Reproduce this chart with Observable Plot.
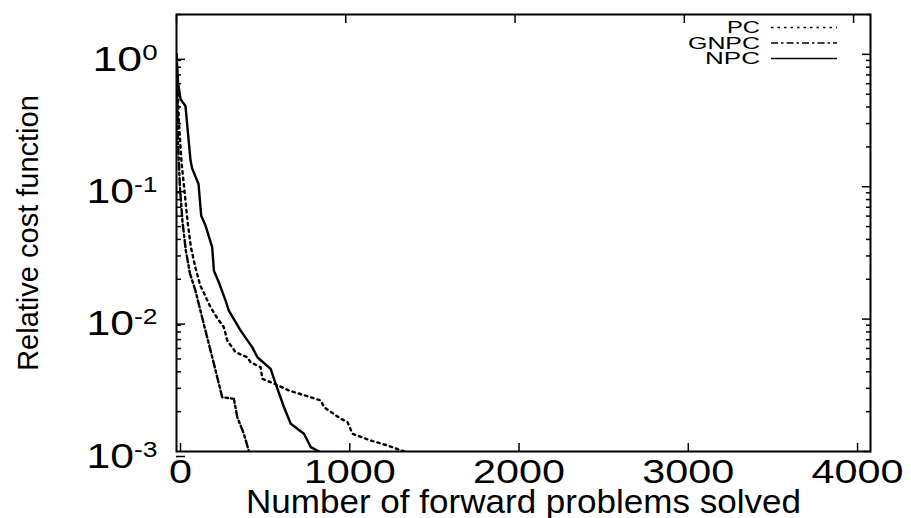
<!DOCTYPE html>
<html><head><meta charset="utf-8">
<script src="https://cdn.jsdelivr.net/npm/d3@7"></script>
<script src="https://cdn.jsdelivr.net/npm/@observablehq/plot@0.6"></script>
<style>body{margin:0;background:#fff;} #chart{width:911px;height:518px;}</style>
</head><body><div id="chart"></div>
<script>
const seriesNames = ["PC", "GNPC", "NPC"];
const pcX = [0, 5, 15, 30, 45, 65, 85, 110, 140, 175, 201, 240, 280, 300, 349, 418, 438, 497, 507, 556, 665, 852, 872, 970, 1010, 1040, 1148, 1247, 1345];
const pcY = [1.0, 0.6, 0.3, 0.15, 0.1, 0.055, 0.035, 0.025, 0.018, 0.0145, 0.0123, 0.0102, 0.00867, 0.00689, 0.00562, 0.00515, 0.00472, 0.00433, 0.00354, 0.00334, 0.00289, 0.00243, 0.00216, 0.00177, 0.00167, 0.00136, 0.00121, 0.00111, 0.001];
const gnpcX = [0, 4, 10, 20, 35, 55, 80, 112, 161, 221, 270, 339, 359, 398, 428];
const gnpcY = [1.0, 0.5, 0.2, 0.1, 0.055, 0.033, 0.022, 0.0164, 0.0092, 0.0046, 0.00257, 0.0025, 0.00182, 0.00136, 0.001];
const npcX = [0, 10, 24, 53, 83, 93, 130, 146, 172, 211, 221, 250, 290, 309, 379, 448, 478, 556, 586, 635, 675, 753, 793, 842];
const npcY = [1.0, 0.6, 0.458, 0.407, 0.157, 0.137, 0.105, 0.0604, 0.0507, 0.0348, 0.0232, 0.019, 0.0138, 0.0116, 0.00819, 0.00612, 0.00515, 0.00421, 0.00324, 0.00216, 0.00162, 0.00136, 0.00108, 0.001];
const xTicks = [0, 1000, 2000, 3000, 4000];
const yTicks = [1e-3, 1e-2, 1e-1, 1];
const xTitle = "Number of forward problems solved";
const yTitle = "Relative cost function";

const dashes = {PC: "2.5,4", GNPC: "7,3,2.5,3", NPC: null};
const seriesX = {PC: pcX, GNPC: gnpcX, NPC: npcX};
const seriesY = {PC: pcY, GNPC: gnpcY, NPC: npcY};
const rows = seriesNames.flatMap(s => seriesX[s].map((x, i) => ({s, x, y: seriesY[s][i]})));

const yMinor = [];
for (const dec of [1e-3, 1e-2, 1e-1]) for (let k = 2; k <= 9; k++) yMinor.push(+(k * dec).toPrecision(3));
yMinor.push(2);

const font = "'Liberation Sans', Arial, Helvetica, sans-serif";
const blank = () => "";

const lineMarks = seriesNames.map(s => Plot.line(rows.filter(d => d.s === s), {
  x: "x", y: "y", stroke: "black", strokeWidth: 2.4, strokeDasharray: dashes[s], clip: true
}));

const plot = Plot.plot({
  width: 911, height: 518,
  marginLeft: 176, marginRight: 41, marginTop: 14, marginBottom: 67,
  style: {fontFamily: font, color: "black", background: "white"},
  x: {domain: [0, 4100]},
  y: {type: "log", domain: [1e-3, 2]},
  marks: [
    ...lineMarks,
    Plot.axisX(xTicks, {anchor: "bottom", tickSize: -8, tickPadding: 15, fontSize: 34, dx: 4, label: null, strokeWidth: 1.5,
      tickFormat: d => String(d)}),
    Plot.axisX(xTicks, {anchor: "top", tickSize: -8, tickFormat: blank, label: null, strokeWidth: 1.5}),
    Plot.axisY(yTicks, {anchor: "left", tickSize: -9, tickPadding: 28, fontSize: 35, dy: 5, label: null, strokeWidth: 1.5,
      tickFormat: d => "10^" + Math.round(Math.log10(d))}),
    Plot.axisY(yTicks, {anchor: "right", tickSize: -9, tickFormat: blank, label: null, strokeWidth: 1.5}),
    Plot.axisY(yMinor, {anchor: "left", tickSize: -5, tickFormat: blank, label: null, strokeWidth: 1.5}),
    Plot.axisY(yMinor, {anchor: "right", tickSize: -5, tickFormat: blank, label: null, strokeWidth: 1.5}),
    Plot.frame({stroke: "black", strokeWidth: 2}),
    Plot.text([xTitle], {frameAnchor: "bottom", lineAnchor: "middle", textAnchor: "middle", dy: 51, fontSize: 34, text: d => d, fill: "black"}),
    Plot.text([yTitle], {frameAnchor: "left", lineAnchor: "middle", textAnchor: "middle", dx: -148, rotate: -90, fontSize: 29, text: d => d, fill: "black"})
  ]
});

// superscripts in y tick labels, widened glyphs
d3.select(plot).selectAll('g[aria-label="y-axis tick label"] text').each(function() {
  const t = this.textContent;
  if (!t.includes("^")) return;
  const [b, e] = t.split("^");
  const s = d3.select(this);
  s.text(null);
  s.append("tspan").text(b);
  s.append("tspan").attr("dy", "-0.5em").attr("font-size", "0.62em").text(e);
  s.attr("textLength", e.length > 1 ? 71 : 65).attr("lengthAdjust", "spacingAndGlyphs");
});
d3.select(plot).selectAll('g[aria-label="x-axis tick label"] text').each(function() {
  const n = this.textContent.length;
  if (n) d3.select(this).attr("textLength", n * 23).attr("lengthAdjust", "spacingAndGlyphs");
});
d3.select(plot).selectAll('g[aria-label="text"] text').each(function() {
  if (this.textContent === xTitle) d3.select(this).attr("textLength", 555).attr("lengthAdjust", "spacingAndGlyphs");
});

// legend (top right, inside the frame)
const legendWidths = {PC: 33, GNPC: 72, NPC: 55};
const svg = d3.select(plot);
const lg = svg.append("g").attr("font-family", font).attr("font-size", 16);
seriesNames.forEach((s, i) => {
  const cy = 27.5 + i * 15.5;
  lg.append("text").attr("x", 760).attr("y", cy).attr("dy", "0.36em").attr("text-anchor", "end").attr("fill", "black")
    .attr("textLength", legendWidths[s]).attr("lengthAdjust", "spacingAndGlyphs").text(s);
  lg.append("line").attr("x1", 771).attr("x2", 837).attr("y1", cy).attr("y2", cy)
    .attr("stroke", "black").attr("stroke-width", 1.6).attr("stroke-dasharray", dashes[s]);
});

document.getElementById("chart").appendChild(plot);
</script>
</body></html>
